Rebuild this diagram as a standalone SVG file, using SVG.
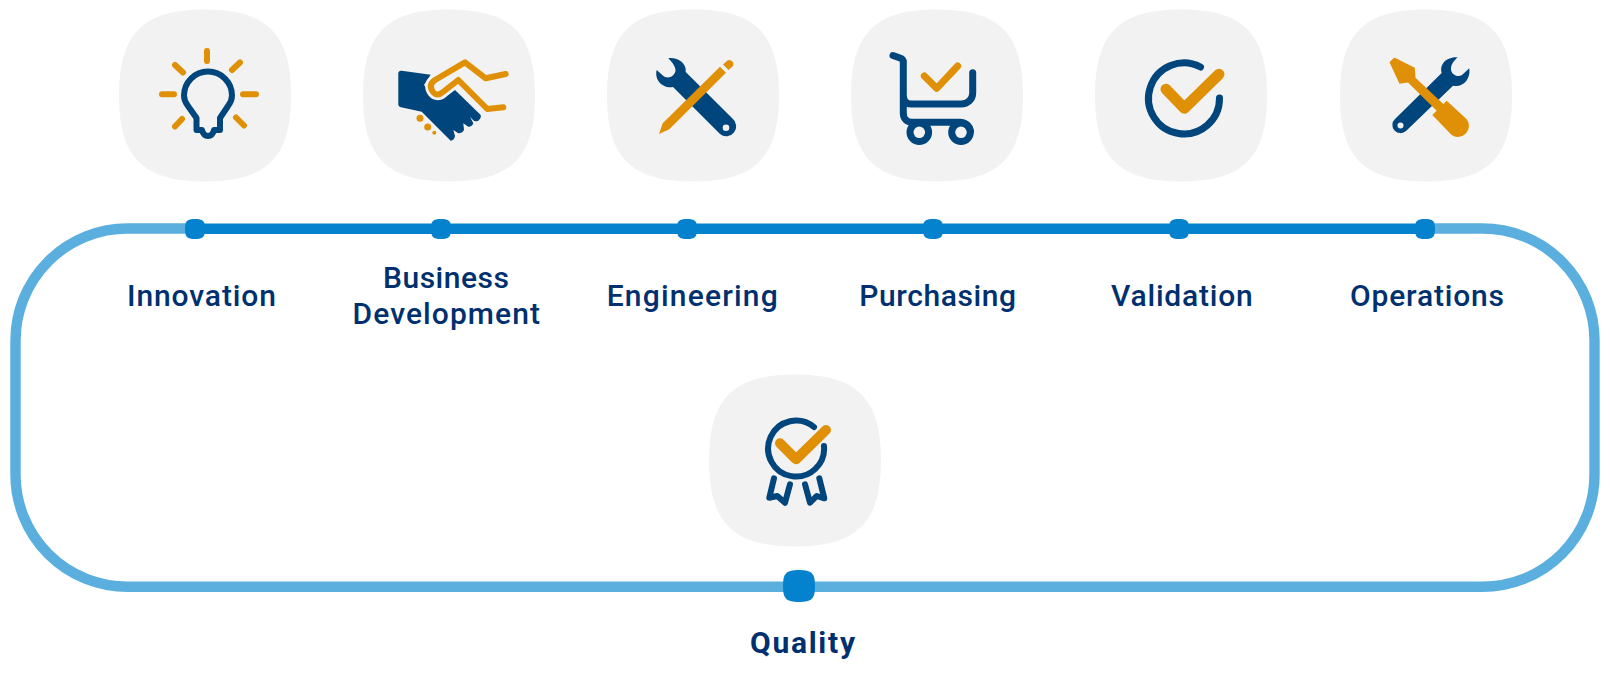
<svg xmlns="http://www.w3.org/2000/svg" width="1610" height="679" viewBox="0 0 1610 679">
<style>
.blob{fill:#f2f2f2}
.n{fill:none;stroke:#00467c;stroke-width:6;stroke-linecap:round;stroke-linejoin:round}
.o{fill:none;stroke:#e09006;stroke-width:6;stroke-linecap:round;stroke-linejoin:round}
.nf{fill:#00467c}
.of{fill:#e09006}
.hole{fill:#f2f2f2}
.dot{fill:#0582ce}
.t{font-family:"Roboto","Liberation Sans",sans-serif;font-size:30px;font-weight:500;fill:#00306f}
</style>
<defs>
<path id="b" d="M0-86C62-86 86-62 86 0C86 62 62 86 0 86C-62 86-86 62-86 0C-86-62-62-86 0-86Z"/>
<path id="d" d="M0-10C8-10 10-8 10 0C10 8 8 10 0 10C-8 10-10 8-10 0C-10-8-8-10 0-10Z"/>
</defs>
<g id="connectors">
<rect x="15.500" y="228.500" width="1579" height="358.300" rx="112" ry="112" fill="none" stroke="#5aafdf" stroke-width="10.400"/>
<line x1="195" y1="229" x2="1425" y2="229" stroke="#0582ce" stroke-width="10"/>
<use href="#d" class="dot" x="195" y="229"/>
<use href="#d" class="dot" x="441" y="229"/>
<use href="#d" class="dot" x="687" y="229"/>
<use href="#d" class="dot" x="933" y="229"/>
<use href="#d" class="dot" x="1179" y="229"/>
<use href="#d" class="dot" x="1425" y="229"/>
<use href="#d" class="dot" transform="translate(799 586) scale(1.6)"/>
</g>
<g id="innovation">
<use href="#b" class="blob" x="205" y="95.500"/>
<path class="o" d="M207 51V61M240 62.500L232 70M175 65L183 72.500M162 94.300H174M243 94.300H256M182 119L175 126.500M236 117.500L244 125.500"/>
<path class="n" d="M196.500 118L188 106C185 102 184 99 184 95.500A24 24 0 0 1 232 95.500C232 99 231 102 228 106L220 118V130H214C212 138 204 138 202 130H196.500Z"/>
<text class="t" x="127" y="305.500" textLength="149">Innovation</text>
</g>
<g id="business-development">
<use href="#b" class="blob" x="449" y="95.500"/>
<path class="nf" d="M398.300 73.300Q398.500 70.300 401.700 70.700L430.700 74.700L424 85L435 99L455 90L480.700 115Q481.500 118 478.300 120.700Q475 122 473 120L470 116.700L473.300 123.300Q472 127 468.300 126.700L463.300 123.300L464 130Q462 133.500 458.300 133.300L453.300 130L455 136Q454 140.500 450.700 140.700L421.700 111.700L401 107.300Q398.300 106.700 398.300 104Z"/>
<path fill="none" stroke="#f2f2f2" stroke-width="11.500" stroke-linejoin="round" d="M465 62.300L435 80Q428 85 433 92Q437 97 443 92L458.300 80"/>
<path class="o" d="M505.700 74L485.700 78.300L465 62.300L435 80Q428 85 433 92Q437 97 443 92L458.300 80L487.300 109L503.300 107.300"/>
<circle class="of" cx="420" cy="118.300" r="3.500"/>
<circle class="of" cx="427.700" cy="127" r="3.500"/>
<circle class="of" cx="434.300" cy="132.700" r="2"/>
<text class="t" x="383" y="288" textLength="126">Business</text>
<text class="t" x="352.500" y="324" textLength="187.500">Development</text>
</g>
<g id="engineering">
<use href="#b" class="blob" x="693" y="95.500"/>
<path class="nf" d="M668.300 58.300C677 57 687 63 685.700 72L732.500 118.500A9 9 0 0 1 720 134L673 87C663 89 654 80 656.700 70L664 76.500C669 79 674 76.500 675.500 71C676 67 672 62 668.300 58.300Z"/>
<circle class="hole" cx="726" cy="127.700" r="3.300"/>
<path class="of" d="M659 134L662.700 123.300L720 66.700L726 72.700L669.300 129.300ZM723 64.500L727.500 60.500Q730 59 732.500 61.500Q734.500 64 732.500 66.500L728.500 70Z"/>
<text class="t" x="606.700" y="305.500" textLength="171">Engineering</text>
</g>
<g id="purchasing">
<use href="#b" class="blob" x="937" y="95.500"/>
<path class="n" style="stroke-width:7" d="M893 55.500L900 58Q903.300 59 903.300 62V113C903.300 119 907 122.300 912 122.300H960C966 122.300 970 127 970.500 131M903.300 95C903.300 101 906 104 911 104H961C968 104 972.700 99 972.700 93V72.700"/>
<circle class="n" style="stroke-width:7" cx="919.300" cy="132.300" r="9.300"/>
<circle class="n" style="stroke-width:7" cx="961" cy="132.300" r="9.300"/>
<path class="o" style="stroke-width:7" d="M924.300 76L936.700 88.300L957.700 66"/>
<text class="t" x="859.300" y="305.500" textLength="156.700">Purchasing</text>
</g>
<g id="validation">
<use href="#b" class="blob" x="1181" y="95.500"/>
<path class="n" style="stroke-width:7" d="M1200.500 67A35.500 35.500 0 1 0 1219.500 98"/>
<path class="o" style="stroke-width:11" d="M1166 89.300L1184.300 108.300L1219 74.300"/>
<text class="t" x="1111" y="305.500" textLength="141.700">Validation</text>
</g>
<g id="operations">
<use href="#b" class="blob" x="1426" y="95.500"/>
<path class="nf" d="M1457.700 57.300C1448 56.500 1439 63 1441.700 73L1395 119A8 8 0 0 0 1406 131L1453 85.700C1463 88 1471 79 1469.300 68.300L1462 75C1457 78 1451 74 1451 69C1451 64 1454 61 1457.700 57.300Z"/>
<circle class="hole" cx="1400.500" cy="125.500" r="3"/>
<path class="of" d="M1389.500 62.300L1394.300 57.500L1414.800 67.700L1415.500 77.800L1443.300 104L1446.700 100.700L1466.700 119.300A11 11 0 0 1 1451.700 135L1432.300 115L1436.700 110.700L1408 82.500L1399.500 83.800Z"/>
<text class="t" x="1350" y="305.500" textLength="154">Operations</text>
</g>
<g id="quality">
<use href="#b" class="blob" x="795" y="460.500"/>
<path class="n" d="M814 427A28 28 0 1 0 824 446"/>
<path class="n" d="M774 478.300L769.300 497.700L777.300 496L785 502.700L790 484.300M805 484.300L810 502.700L816.700 496L824.300 498.300L819.300 478.300"/>
<path class="o" style="stroke-width:10" d="M780 443.300L796 459.300L826 430"/>
<text class="t" style="font-weight:700" x="750" y="653" textLength="105">Quality</text>
</g>
</svg>
